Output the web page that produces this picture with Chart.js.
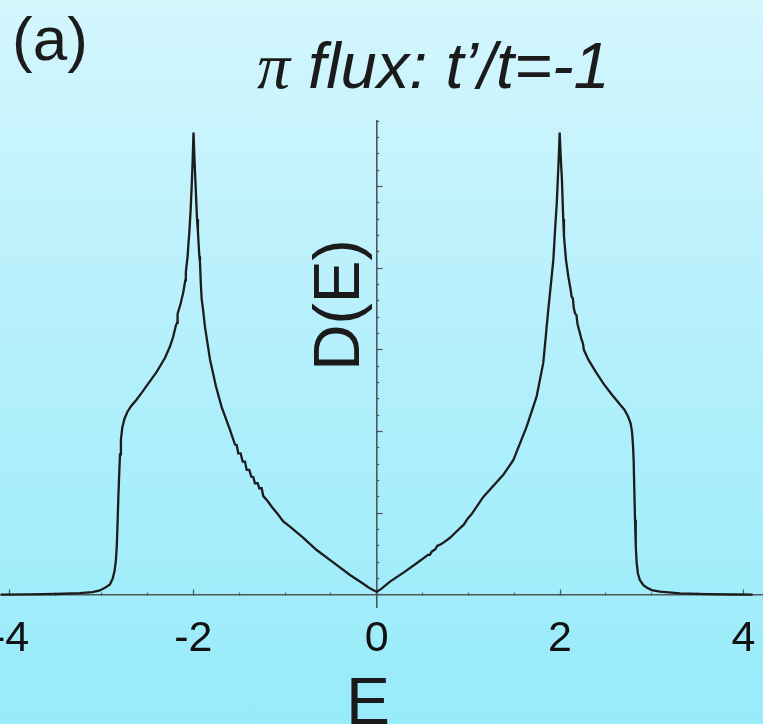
<!DOCTYPE html>
<html>
<head>
<meta charset="utf-8">
<script src="https://cdn.jsdelivr.net/npm/chart.js@4/dist/chart.umd.min.js"></script>
<style>
  html, body { margin: 0; padding: 0; }
  body {
    width: 763px;
    height: 724px;
    overflow: hidden;
    background: linear-gradient(to bottom, #d4f6fd 0%, #b6f0fc 45%, #97ebfa 100%);
  }
  canvas { display: block; }
</style>
</head>
<body>
<canvas id="dos" width="763" height="724"></canvas>
<script>
// Density of states, pi-flux lattice with t'/t = -1
const energy = [
  -4.10, -3.80, -3.50, -3.24, -3.10, -3.02, -2.96, -2.91, -2.88, -2.86,
  -2.845, -2.835, -2.826, -2.818, -2.808, -2.800, -2.790, -2.775, -2.750, -2.720,
  -2.680, -2.620, -2.560, -2.490, -2.400, -2.310, -2.255, -2.220, -2.190, -2.178,
  -2.172, -2.140, -2.110, -2.088, -2.082, -2.062, -2.052, -2.046, -2.030, -2.018,
  -2.008, -1.998, -1.988, -1.975, -1.960, -1.950, -1.935, -1.928, -1.918, -1.909,
  -1.895, -1.873, -1.818, -1.753, -1.691, -1.600, -1.546, -1.527, -1.510, -1.484,
  -1.462, -1.437, -1.418, -1.390, -1.368, -1.346, -1.328, -1.298, -1.281, -1.255,
  -1.237, -1.190, -1.145, -1.080, -1.019, -0.946, -0.800, -0.655, -0.500, -0.291,
  -0.150, -0.092, -0.040, 0.000, 0.050, 0.145, 0.300, 0.436, 0.560, 0.580,
  0.600, 0.640, 0.660, 0.700, 0.740, 0.800, 0.873, 0.950, 0.990, 1.036,
  1.163, 1.381, 1.490, 1.636, 1.745, 1.817, 1.846, 1.852, 1.870, 1.890,
  1.927, 1.945, 1.964, 1.985, 1.996, 2.008, 2.020, 2.035, 2.043, 2.065,
  2.090, 2.115, 2.127, 2.140, 2.150, 2.163, 2.180, 2.190, 2.236, 2.250,
  2.260, 2.309, 2.390, 2.472, 2.560, 2.654, 2.700, 2.740, 2.770, 2.785,
  2.795, 2.803, 2.810, 2.818, 2.826, 2.836, 2.850, 2.872, 2.910, 2.945,
  3.000, 3.090, 3.310, 3.600, 3.900, 4.100
];

const dos = [
  0.0004, 0.0007, 0.0012, 0.0022, 0.0035, 0.0055, 0.0090, 0.0130, 0.0200, 0.0290,
  0.0420, 0.0600, 0.0900, 0.1200, 0.1500, 0.1720, 0.1900, 0.2050, 0.2160, 0.2240,
  0.2310, 0.2390, 0.2480, 0.2590, 0.2730, 0.2900, 0.3040, 0.3160, 0.3300, 0.3330,
  0.3440, 0.3560, 0.3700, 0.3850, 0.3950, 0.4150, 0.4320, 0.4400, 0.4700, 0.5000,
  0.5300, 0.5660, 0.5350, 0.5000, 0.4600, 0.4450, 0.4150, 0.4080, 0.3800, 0.3620,
  0.3500, 0.3280, 0.2880, 0.2550, 0.2300, 0.2020, 0.1840, 0.1836, 0.1734, 0.1734,
  0.1632, 0.1632, 0.1530, 0.1530, 0.1448, 0.1441, 0.1367, 0.1367, 0.1306, 0.1306,
  0.1210, 0.1150, 0.1080, 0.0990, 0.0900, 0.0836, 0.0700, 0.0550, 0.0420, 0.0245,
  0.0140, 0.0094, 0.0060, 0.0040, 0.0075, 0.0163, 0.0280, 0.0388, 0.0490, 0.0490,
  0.0530, 0.0560, 0.0600, 0.0620, 0.0650, 0.0700, 0.0780, 0.0860, 0.0930, 0.0990,
  0.1200, 0.1470, 0.1650, 0.2060, 0.2430, 0.2840, 0.3180, 0.3260, 0.3470, 0.3690,
  0.4100, 0.4450, 0.4790, 0.5320, 0.5660, 0.5350, 0.5100, 0.4600, 0.4390, 0.4100,
  0.3900, 0.3740, 0.3650, 0.3630, 0.3510, 0.3450, 0.3420, 0.3320, 0.3120, 0.3080,
  0.3000, 0.2880, 0.2730, 0.2590, 0.2460, 0.2330, 0.2270, 0.2190, 0.2100, 0.2000,
  0.1850, 0.1650, 0.1300, 0.0920, 0.0600, 0.0390, 0.0260, 0.0180, 0.0120, 0.0090,
  0.0060, 0.0040, 0.0020, 0.0011, 0.0006, 0.0004
];

const xLabels = [-4, -2, 0, 2, 4];

const panelTag = "(a)";
const titleSymbol = "\u03c0";
const titleRest = " flux: t\u2019/t=-1";
const xTitle = "E";
const yTitle = "D(E)";

const ink = "#1b1b1b";
const axisGrey = "#4e585c";

// free text: panel tag, mixed-font title, axis names
const figureText = {
  id: "figureText",
  afterDraw(chart) {
    const { ctx } = chart;
    ctx.save();
    ctx.fillStyle = ink;
    ctx.textBaseline = "alphabetic";

    ctx.textAlign = "left";
    ctx.font = '62px "Liberation Sans"';
    ctx.fillText(panelTag, 12, 60);

    ctx.font = 'italic 66px "Liberation Serif"';
    ctx.fillText(titleSymbol, 257, 88);
    const piWidth = ctx.measureText(titleSymbol).width;
    ctx.font = 'italic 65px "Liberation Sans"';
    ctx.fillText(titleRest, 257 + piWidth, 88);

    ctx.textAlign = "center";
    ctx.font = '66px "Liberation Sans"';
    ctx.fillText(xTitle, 368, 724);

    ctx.translate(359, 305);
    ctx.rotate(-Math.PI / 2);
    ctx.font = '64px "Liberation Sans"';
    ctx.fillText(yTitle, 0, 0);
    ctx.restore();
  },
};

const yRange = { min: -0.0147, max: 0.58 };
const xRange = { min: -4.109, max: 4.214 };

new Chart(document.getElementById("dos"), {
  type: "line",
  data: {
    datasets: [
      {
        data: energy.map((e, i) => ({ x: e, y: dos[i] })),
        borderColor: "#1c1c1c",
        borderWidth: 2.3,
        pointRadius: 0,
        tension: 0,
        fill: false,
      },
    ],
  },
  options: {
    responsive: false,
    animation: false,
    layout: { padding: { top: 121, bottom: 117, left: 0, right: 0 } },
    plugins: { legend: { display: false }, tooltip: { enabled: false } },
    scales: {
      x: {
        type: "linear",
        ...xRange,
        position: { y: 0 },
        ticks: {
          stepSize: 0.5,
          includeBounds: false,
          autoSkip: false,
          maxRotation: 0,
          padding: 21,
          color: "#111",
          font: { family: "Liberation Sans", size: 43 },
          callback: (v) => (xLabels.includes(v) ? String(v) : ""),
        },
        grid: { drawOnChartArea: false, tickLength: -3, tickColor: axisGrey, tickWidth: 1.2 },
        border: { color: axisGrey, width: 1.6 },
        afterFit(scale) {
          scale.paddingLeft = 0;
          scale.paddingRight = 0;
        },
      },
      x2: {
        type: "linear",
        axis: "x",
        ...xRange,
        position: { y: 0 },
        ticks: { display: false, stepSize: 2, includeBounds: false },
        grid: { drawOnChartArea: false, tickLength: -5.5, tickColor: axisGrey, tickWidth: 1.2 },
        border: { display: false },
      },
      y: {
        type: "linear",
        ...yRange,
        position: { x: 0 },
        ticks: { display: false, stepSize: 0.02, includeBounds: false },
        grid: { drawOnChartArea: false, tickLength: -3.3, tickColor: axisGrey, tickWidth: 1.2 },
        border: { color: axisGrey, width: 1.6 },
      },
      y2: {
        type: "linear",
        axis: "y",
        ...yRange,
        position: { x: 0 },
        ticks: { display: false, stepSize: 0.1, includeBounds: false },
        grid: { drawOnChartArea: false, tickLength: -5.7, tickColor: axisGrey, tickWidth: 1.2 },
        border: { display: false },
      },
    },
  },
  plugins: [figureText],
});
</script>
</body>
</html>
